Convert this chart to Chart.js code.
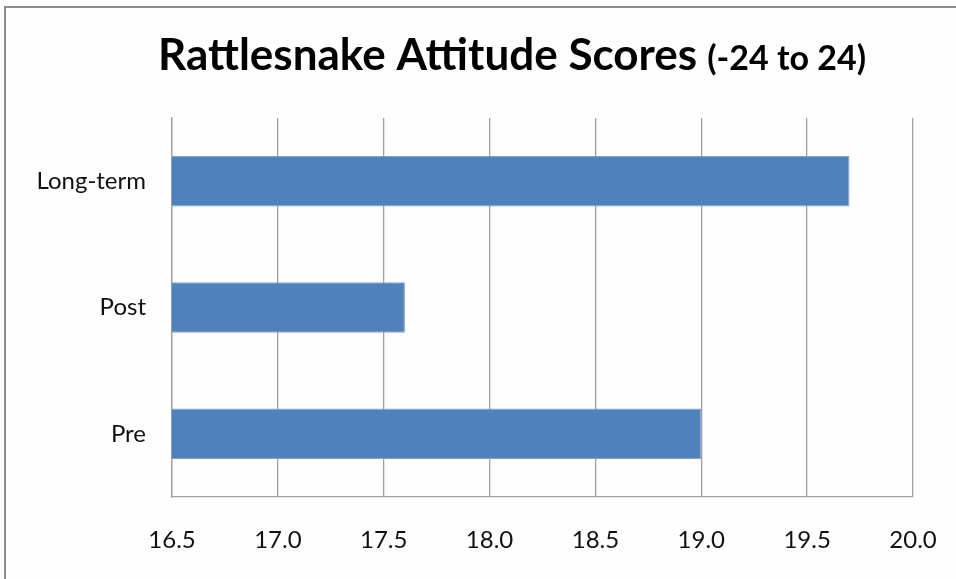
<!DOCTYPE html>
<html>
<head>
<meta charset="utf-8">
<script src="https://cdn.jsdelivr.net/npm/chart.js@4/dist/chart.umd.min.js"></script>
<style>
  html, body { margin: 0; padding: 0; background: #fefefe; }
  #wrap { position: relative; width: 956px; height: 579px; }
</style>
</head>
<body>
<div id="wrap"><canvas id="c" width="956" height="579"></canvas></div>
<script>
// ---- data ----
const categories = ['Pre', 'Post', 'Long-term'];
const scores = [19.0, 17.6, 19.7];
const titleMain = 'Rattlesnake Attitude Scores';
const titleSub = '(-24 to 24)';
const xMin = 16.5, xMax = 20.0, xStep = 0.5;

const framePlugin = {
  id: 'frameAndTitle',
  beforeDraw(chart) {
    const ctx = chart.ctx;
    ctx.save();
    ctx.fillStyle = '#fefefe';
    ctx.fillRect(0, 0, chart.width, chart.height);
    ctx.strokeStyle = '#8c8c8c';
    ctx.lineWidth = 2;
    ctx.beginPath();
    ctx.moveTo(5, chart.height);
    ctx.lineTo(5, 7);
    ctx.lineTo(chart.width, 7);
    ctx.stroke();
    ctx.restore();
  },
  afterDraw(chart) {
    const ctx = chart.ctx;
    ctx.save();
    const f1 = 'bold 44px Lato';
    const f2 = 'bold 34px Lato';
    ctx.font = f1;
    const w1 = ctx.measureText(titleMain).width;
    ctx.font = f2;
    const gap = 10;
    const w2 = ctx.measureText(titleSub).width;
    const total = w1 + gap + w2;
    const cx = 512;
    const x0 = cx - total / 2;
    const baseY = 70;
    ctx.fillStyle = '#000';
    ctx.textBaseline = 'alphabetic';
    ctx.textAlign = 'left';
    ctx.font = f1;
    ctx.fillText(titleMain, x0, baseY);
    ctx.font = f2;
    ctx.fillText(titleSub, x0 + w1 + gap, baseY);
    ctx.restore();
  }
};

new Chart(document.getElementById('c'), {
  type: 'bar',
  data: {
    labels: categories,
    datasets: [{
      data: scores,
      backgroundColor: '#4f81bd',
      borderColor: '#7fa2cf',
      borderWidth: 1,
      categoryPercentage: 1.0,
      barPercentage: 0.4
    }]
  },
  options: {
    indexAxis: 'y',
    responsive: false,
    animation: false,
    layout: { padding: { left: 0, top: 118, right: 43, bottom: 0 } },
    plugins: {
      legend: { display: false },
      title: { display: false },
      tooltip: { enabled: false }
    },
    scales: {
      x: {
        min: xMin,
        max: xMax,
        ticks: {
          stepSize: xStep,
          padding: 29,
          color: '#111',
          font: { family: 'Lato', size: 24 },
          callback: v => Number(v).toFixed(1)
        },
        grid: { color: '#a0a0a0', lineWidth: 1.3, drawTicks: false },
        border: { display: true, color: '#a0a0a0', width: 1.3 },
        afterFit(scale) {
          scale.height = 82;
          scale.paddingLeft = 0;
          scale.paddingRight = 0;
        }
      },
      y: {
        reverse: true,
        ticks: {
          padding: 26,
          color: '#111',
          font: { family: 'Lato', size: 24 }
        },
        grid: { display: false, drawTicks: false },
        border: { display: true, color: '#a0a0a0', width: 1.3 },
        afterFit(scale) { scale.width = 172; }
      }
    }
  },
  plugins: [framePlugin]
});
</script>
</body>
</html>
